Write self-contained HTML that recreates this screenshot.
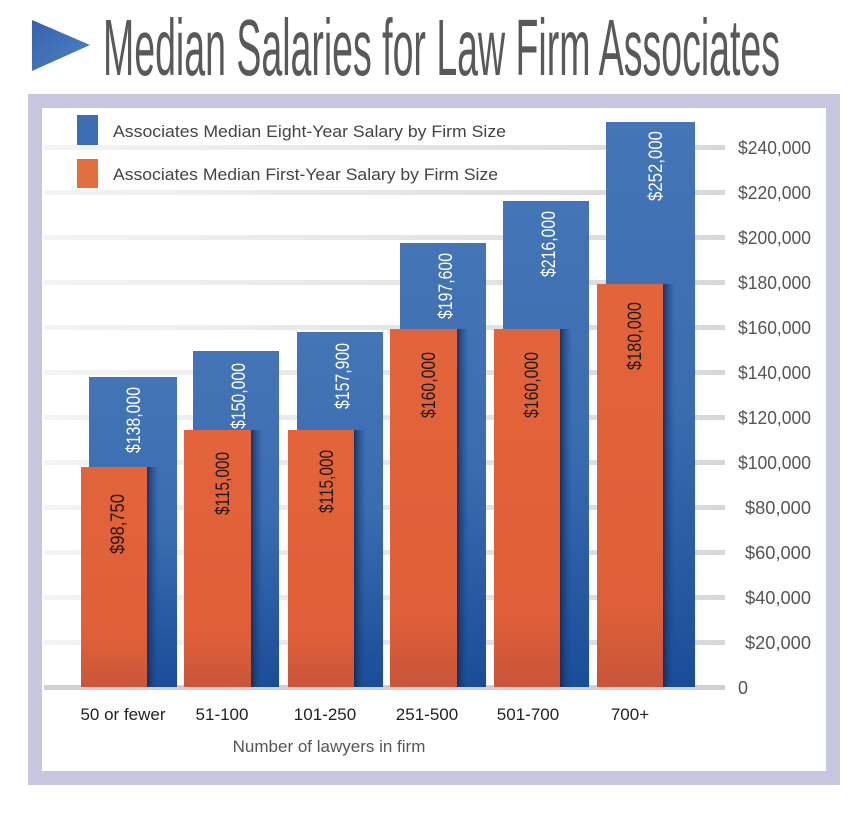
<!DOCTYPE html>
<html><head><meta charset="utf-8"><style>html,body{margin:0;padding:0;background:#fff}svg{display:block}</style></head>
<body>
<svg width="858" height="816" viewBox="0 0 858 816" xmlns="http://www.w3.org/2000/svg" font-family="Liberation Sans, sans-serif">
<defs>
<linearGradient id="bl" x1="0" y1="0" x2="0" y2="1"><stop offset="0" stop-color="#4475b6"/><stop offset="0.5" stop-color="#3a6cb0"/><stop offset="1" stop-color="#1a4d98"/></linearGradient>
<linearGradient id="or" x1="0" y1="0" x2="0" y2="1"><stop offset="0" stop-color="#e3643a"/><stop offset="0.8" stop-color="#df5f38"/><stop offset="1" stop-color="#c9553a"/></linearGradient>
<linearGradient id="gr" x1="0" y1="0" x2="1" y2="0"><stop offset="0" stop-color="#f4f4f4"/><stop offset="1" stop-color="#d8d8d8"/></linearGradient>
<linearGradient id="sh" x1="0" y1="0" x2="1" y2="0"><stop offset="0" stop-color="#13294f" stop-opacity="0.85"/><stop offset="1" stop-color="#1a4d98" stop-opacity="0"/></linearGradient>
<linearGradient id="tri" x1="0" y1="0" x2="1" y2="1"><stop offset="0" stop-color="#3563ad"/><stop offset="1" stop-color="#4e82c4"/></linearGradient>
</defs>
<rect x="28" y="94" width="812" height="691" fill="#c6c6de"/>
<rect x="42" y="108" width="784" height="663" fill="#fff"/>
<polygon points="32,20 90,45 32,71" fill="url(#tri)"/>
<text x="103" y="75" font-size="80" fill="#58595b" textLength="677" lengthAdjust="spacingAndGlyphs">Median Salaries for Law Firm Associates</text>
<g>
<rect x="44" y="145" width="681" height="5" fill="url(#gr)"/>
<rect x="44" y="190" width="681" height="5" fill="url(#gr)"/>
<rect x="44" y="235" width="681" height="5" fill="url(#gr)"/>
<rect x="44" y="280" width="681" height="5" fill="url(#gr)"/>
<rect x="44" y="325" width="681" height="5" fill="url(#gr)"/>
<rect x="44" y="370" width="681" height="5" fill="url(#gr)"/>
<rect x="44" y="415" width="681" height="5" fill="url(#gr)"/>
<rect x="44" y="460" width="681" height="5" fill="url(#gr)"/>
<rect x="44" y="505" width="681" height="5" fill="url(#gr)"/>
<rect x="44" y="550" width="681" height="5" fill="url(#gr)"/>
<rect x="44" y="595" width="681" height="5" fill="url(#gr)"/>
<rect x="44" y="640" width="681" height="5" fill="url(#gr)"/>
<rect x="44" y="685" width="681" height="5" fill="#d0d0d0"/>
</g>
<rect x="77" y="115" width="21" height="30" fill="#3a6db2"/>
<rect x="77" y="159" width="21" height="29" fill="#e2703e"/>
<g font-size="16.5" fill="#444">
<text x="113" y="137" textLength="393" lengthAdjust="spacingAndGlyphs">Associates Median Eight-Year Salary by Firm Size</text>
<text x="113" y="180" textLength="385" lengthAdjust="spacingAndGlyphs">Associates Median First-Year Salary by Firm Size</text>
</g>
<g font-size="18" fill="#555">
<text x="738" y="154" textLength="73" lengthAdjust="spacingAndGlyphs">$240,000</text>
<text x="738" y="199" textLength="73" lengthAdjust="spacingAndGlyphs">$220,000</text>
<text x="738" y="244" textLength="73" lengthAdjust="spacingAndGlyphs">$200,000</text>
<text x="738" y="289" textLength="73" lengthAdjust="spacingAndGlyphs">$180,000</text>
<text x="738" y="334" textLength="73" lengthAdjust="spacingAndGlyphs">$160,000</text>
<text x="738" y="379" textLength="73" lengthAdjust="spacingAndGlyphs">$140,000</text>
<text x="738" y="424" textLength="73" lengthAdjust="spacingAndGlyphs">$120,000</text>
<text x="738" y="469" textLength="73" lengthAdjust="spacingAndGlyphs">$100,000</text>
<text x="745" y="514" textLength="66" lengthAdjust="spacingAndGlyphs">$80,000</text>
<text x="745" y="559" textLength="66" lengthAdjust="spacingAndGlyphs">$60,000</text>
<text x="745" y="604" textLength="66" lengthAdjust="spacingAndGlyphs">$40,000</text>
<text x="745" y="649" textLength="66" lengthAdjust="spacingAndGlyphs">$20,000</text>
<text x="738" y="694">0</text>
</g>
<g>
<rect x="89" y="377" width="88" height="310" fill="url(#bl)"/>
<rect x="193" y="351" width="86" height="336" fill="url(#bl)"/>
<rect x="297" y="332" width="86" height="355" fill="url(#bl)"/>
<rect x="400" y="243" width="86" height="444" fill="url(#bl)"/>
<rect x="503" y="201" width="86" height="486" fill="url(#bl)"/>
<rect x="606" y="122" width="89" height="565" fill="url(#bl)"/>
<rect x="147" y="467" width="12" height="220" fill="url(#sh)"/>
<rect x="251" y="430" width="12" height="257" fill="url(#sh)"/>
<rect x="354" y="430" width="12" height="257" fill="url(#sh)"/>
<rect x="457" y="329" width="12" height="358" fill="url(#sh)"/>
<rect x="560" y="329" width="12" height="358" fill="url(#sh)"/>
<rect x="663" y="284" width="12" height="403" fill="url(#sh)"/>
<rect x="81" y="467" width="66" height="220" fill="url(#or)"/>
<rect x="184" y="430" width="67" height="257" fill="url(#or)"/>
<rect x="288" y="430" width="66" height="257" fill="url(#or)"/>
<rect x="390" y="329" width="67" height="358" fill="url(#or)"/>
<rect x="494" y="329" width="66" height="358" fill="url(#or)"/>
<rect x="597" y="284" width="66" height="403" fill="url(#or)"/>
</g>
<g font-size="19" fill="#fff" text-anchor="end">
<text transform="translate(140,387) rotate(-90)" textLength="66" lengthAdjust="spacingAndGlyphs">$138,000</text>
<text transform="translate(245,363) rotate(-90)" textLength="66" lengthAdjust="spacingAndGlyphs">$150,000</text>
<text transform="translate(349,343) rotate(-90)" textLength="66" lengthAdjust="spacingAndGlyphs">$157,900</text>
<text transform="translate(452,253) rotate(-90)" textLength="66" lengthAdjust="spacingAndGlyphs">$197,600</text>
<text transform="translate(555,211) rotate(-90)" textLength="66" lengthAdjust="spacingAndGlyphs">$216,000</text>
<text transform="translate(662,131) rotate(-90)" textLength="70" lengthAdjust="spacingAndGlyphs">$252,000</text>
</g>
<g font-size="19" fill="#1a1a1a" text-anchor="end">
<text transform="translate(124,494) rotate(-90)" textLength="60" lengthAdjust="spacingAndGlyphs">$98,750</text>
<text transform="translate(229,452) rotate(-90)" textLength="63" lengthAdjust="spacingAndGlyphs">$115,000</text>
<text transform="translate(333,450) rotate(-90)" textLength="63" lengthAdjust="spacingAndGlyphs">$115,000</text>
<text transform="translate(435,352) rotate(-90)" textLength="66" lengthAdjust="spacingAndGlyphs">$160,000</text>
<text transform="translate(538,352) rotate(-90)" textLength="66" lengthAdjust="spacingAndGlyphs">$160,000</text>
<text transform="translate(641,302) rotate(-90)" textLength="68" lengthAdjust="spacingAndGlyphs">$180,000</text>
</g>
<g font-size="17" fill="#222" text-anchor="middle">
<text x="123" y="720">50 or fewer</text>
<text x="222" y="720">51-100</text>
<text x="325" y="720">101-250</text>
<text x="427" y="720">251-500</text>
<text x="528" y="720">501-700</text>
<text x="630" y="720">700+</text>
</g>
<text x="329" y="752" font-size="17" fill="#555" text-anchor="middle">Number of lawyers in firm</text>
</svg>
</body></html>
